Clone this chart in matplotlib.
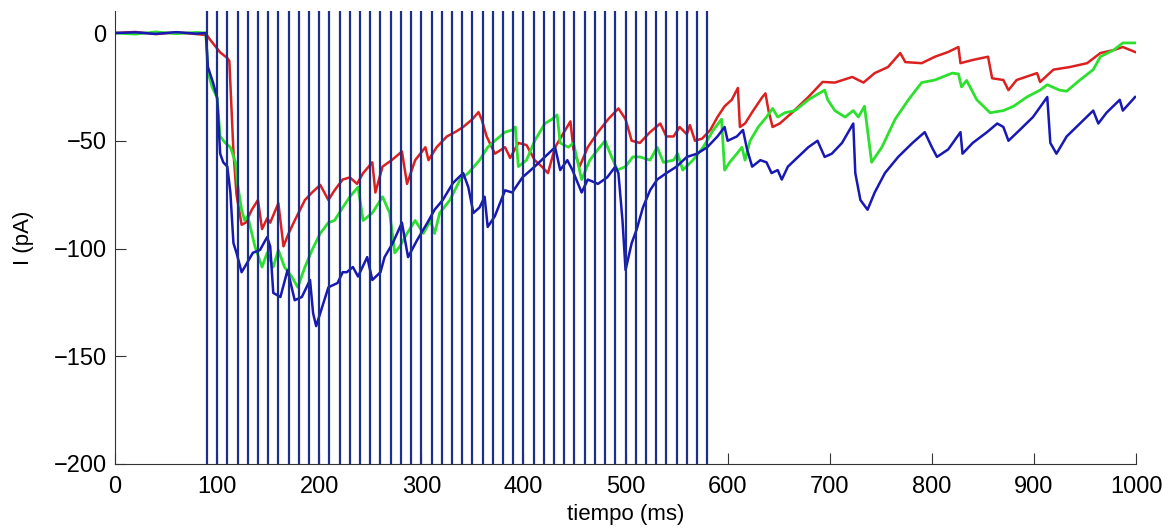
import matplotlib
matplotlib.use("Agg")
import matplotlib.pyplot as plt

# stimulus times (ms)
stim_t = [90, 100, 110, 120, 130, 140, 150, 160, 170, 180,
          190, 200, 210, 220, 230, 240, 250, 260, 270, 280,
          290, 300, 310, 320, 330, 340, 350, 360, 370, 380,
          390, 400, 410, 420, 430, 440, 450, 460, 470, 480,
          490, 500, 510, 520, 530, 540, 550, 560, 570, 580]

red_t = [0, 20, 40, 60, 80, 90, 93, 103, 110, 112, 116, 119, 124, 128, 134, 140, 144, 149, 152,
         160, 165, 170, 176, 186, 193, 201, 209, 215, 223, 230, 237, 243, 252, 255, 262, 271,
         281, 286, 294, 304, 307, 315, 325, 333, 341, 350, 356, 359, 364, 372, 382, 387, 395,
         403, 411, 418, 424, 431, 441, 446, 449, 455, 463, 473, 483, 493, 500, 506, 514, 524,
         534, 540, 547, 553, 560, 563, 568, 575, 583, 590, 597, 604, 610, 612, 617, 625, 634,
         637, 640, 644, 651, 663, 679, 693, 705, 722, 733, 744, 757, 769, 774, 790, 803, 816,
         826, 828, 840, 855, 859, 870, 875, 883, 903, 906, 919, 935, 952, 965, 978, 987, 999]
red_i = [0, 0.5, -0.5, 0.3, -0.5, -1, -3, -9, -11.6, -13, -55, -75, -89, -88, -82, -77.5, -91, -86, -88,
         -79, -99, -93, -87, -77.5, -74, -70.5, -77.5, -73, -68, -67, -70, -65, -60, -74, -62, -59,
         -55, -70, -59, -53, -59, -53, -48, -46, -43.6, -40, -36.7, -40, -48, -56, -53, -58, -51,
         -52, -59, -62, -65, -53, -45, -41, -54, -62, -53, -46, -40, -35, -40, -50, -51, -46,
         -42, -48, -48, -43.6, -47, -42.7, -50, -49, -45, -39, -34, -31, -25.5, -43.6, -42, -36, -29.7,
         -28, -36, -43.6, -42, -37, -29.7, -22.7, -23, -20.4, -23, -18.6, -15.8, -9.3, -13.5, -14, -11, -8.8,
         -6.5, -14, -12.5, -11, -21, -21.8, -26.5, -21.8, -18.6, -22.7, -17, -15.8, -14, -9.3, -7.9, -6.5, -8.8]

green_t = [0, 20, 40, 60, 80, 89, 91, 95, 100, 103, 108, 113, 118, 120, 124, 127, 130, 137, 144, 149,
           155, 160, 166, 173, 179, 186, 193, 201, 209, 215, 223, 230, 238, 243, 252, 262, 269, 274,
           279, 286, 294, 302, 309, 313, 318, 328, 338, 346, 357, 365, 372, 382, 389, 392, 395, 403,
           411, 421, 428, 433, 436, 444, 449, 457, 465, 473, 480, 485, 492, 500, 507, 514, 524, 531,
           537, 547, 551, 556, 566, 576, 586, 594, 597, 602, 609, 614, 617, 622, 630, 638, 644, 649,
           656, 666, 679, 695, 698, 705, 715, 723, 728, 734, 741, 751, 764, 777, 790, 803, 820, 826,
           829, 834, 844, 857, 870, 880, 893, 906, 913, 925, 932, 945, 958, 965, 978, 987, 999]
green_i = [0, -0.5, 0.5, -0.3, 0.3, 0, -18, -25, -30, -48, -51, -53, -60, -70, -82, -87, -85, -99, -108.6, -102,
           -108.6, -100.7, -108.6, -113, -118, -108.6, -100.7, -93, -88, -87, -81, -76, -71.5, -87, -83.5, -76, -83.5, -102,
           -99, -93, -87, -93, -87, -93, -83.5, -77.5, -68, -65, -59, -53, -50, -46, -45, -43.6, -62, -59,
           -50, -42, -40, -38, -51, -53, -51, -68, -59, -54, -50, -56, -63.6, -62, -57.5, -57.5, -59, -53,
           -60, -59, -56, -63.6, -59, -53, -45, -40, -63.6, -60, -56, -53, -59, -50, -43.6, -39, -35, -39,
           -37, -36, -31, -26.5, -31, -36, -39, -36, -39, -34, -60, -53, -40, -31, -23, -21.8, -18.6, -19,
           -25, -22, -31, -37, -36, -34, -29.7, -26.5, -24, -26.5, -27, -21.8, -17, -11, -7.9, -4.6, -4.6]

blue_t = [0, 20, 40, 60, 80, 89, 91, 96, 100, 103, 106, 110, 113, 116, 119, 124, 129, 135, 142, 149,
          152, 155, 162, 169, 176, 183, 191, 194, 197, 201, 209, 218, 223, 227, 233, 238, 247, 252,
          260, 264, 272, 281, 287, 296, 306, 313, 321, 331, 341, 346, 351, 357, 362, 365, 372, 382,
          389, 399, 411, 421, 431, 436, 443, 448, 457, 463, 473, 482, 490, 493, 497, 500, 506, 511,
          517, 524, 531, 540, 550, 560, 570, 580, 590, 597, 600, 609, 615, 619, 624, 632, 638, 643,
          649, 653, 659, 669, 679, 688, 695, 702, 712, 723, 725, 730, 737, 744, 754, 767, 781, 793,
          800, 805, 816, 828, 830, 840, 854, 864, 870, 875, 886, 899, 913, 916, 922, 932, 945, 958,
          963, 971, 984, 987, 999]
blue_i = [0, 0.3, -0.4, 0.4, -0.3, 0, -15.8, -23, -30, -56, -60, -62, -74, -97.5, -102, -111, -107, -102, -100.7, -94.7,
          -99, -120.6, -122.5, -110, -124, -122.5, -114.6, -130, -136, -130, -118, -116, -111, -111, -108.6, -113, -104, -114.6,
          -111, -104, -97.5, -88, -104, -96, -88, -82, -77.5, -69.6, -65, -71.5, -83.5, -81, -76, -90, -85, -73,
          -74, -67, -62, -57.5, -53, -63.6, -59, -63.6, -74, -68, -70, -67, -62, -65, -87, -110, -97.5, -91,
          -81, -73, -68, -65, -62, -57.5, -56, -53, -48, -43.6, -50, -48, -45, -54, -62, -59, -60, -65,
          -63.6, -68, -62, -57.5, -53, -50, -57.5, -56, -51, -42, -65, -77.5, -82, -74, -65, -57.5, -51, -46,
          -53, -57.5, -54, -46, -56, -51, -46, -42, -43.6, -50, -45, -39, -29.7, -51, -56, -48, -42, -36,
          -42, -37, -31, -36, -29.7]

plt.rcParams['font.family'] = ['Liberation Sans', 'DejaVu Sans']

fig = plt.figure(figsize=(11.71, 5.31), dpi=100)
ax = fig.add_axes([0.0982, 0.1262, 0.8720, 0.8522])

ax.plot(red_t, red_i, color='#dc2020', lw=1.8)
ax.plot(green_t, green_i, color='#2ee02e', lw=2.0)
ax.plot(blue_t, blue_i, color='#1818b4', lw=1.8)
for s in stim_t:
    ax.axvline(s, color='#1c2f8c', lw=1.6)

ax.set_xlim(0, 1000)
ax.set_ylim(-200, 10)
ax.set_xticks([0, 100, 200, 300, 400, 500, 600, 700, 800, 900, 1000])
ax.set_yticks([0, -50, -100, -150, -200])
ax.spines['top'].set_visible(False)
ax.spines['right'].set_visible(False)
for sp in ('left', 'bottom'):
    ax.spines[sp].set_color('#333333')
ax.tick_params(direction='in', length=8, labelsize=17, colors='#333333', labelcolor='black')
ax.tick_params(axis='x', pad=9)
ax.tick_params(axis='y', pad=6)
ax.set_xlabel('tiempo (ms)', fontsize=16, labelpad=4)
ax.set_ylabel('I (pA)', fontsize=16, labelpad=14)

fig.savefig('out.png', dpi=100)
